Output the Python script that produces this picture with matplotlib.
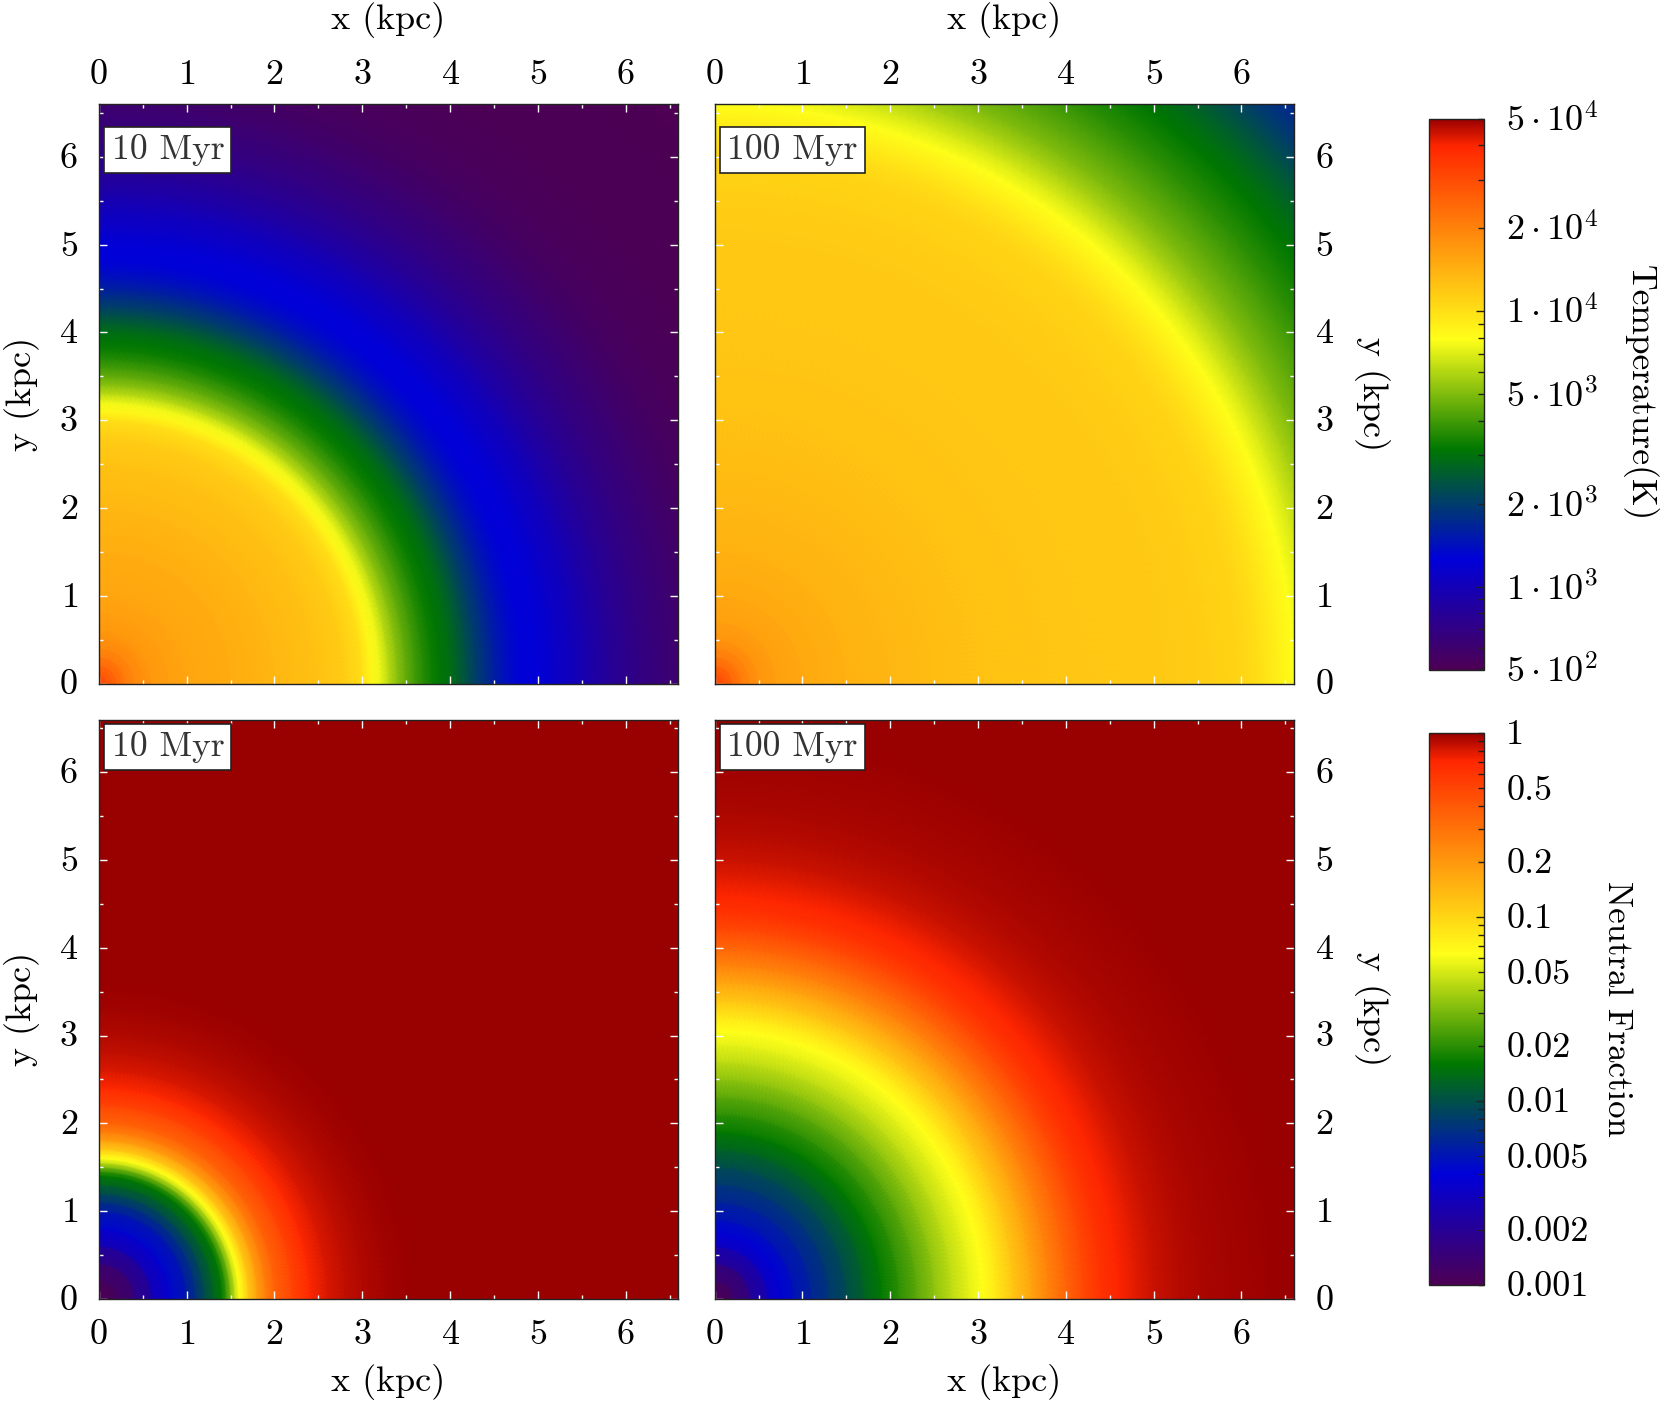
import numpy as np
import matplotlib
matplotlib.use('Agg')
import matplotlib.pyplot as plt
from matplotlib.colors import LinearSegmentedColormap, LogNorm
from matplotlib.ticker import MultipleLocator
from matplotlib.transforms import ScaledTranslation

# radial profiles (r in kpc)
r_temp_10 = [0, .1, .2, .3, .4, .5, .6, .8, 1, 1.5, 2, 2.5, 2.8, 3, 3.1, 3.2, 3.3, 3.4, 3.5, 3.6, 3.7, 3.8, 3.9,
             4, 4.1, 4.2, 4.3, 4.4, 4.5, 4.6, 4.7, 4.8, 4.9, 5, 5.1, 5.2, 5.4, 5.6, 5.8, 6, 6.2, 6.4, 6.6, 6.8, 7,
             7.5, 8, 9.4]
temp_10 = [31500, 27000, 24000, 21000, 19000, 18000, 17000, 16000, 15500, 14500, 13500, 12500, 11500, 10000, 8500,
           7500, 6200, 5200, 4500, 4000, 3600, 3300, 3100, 2900, 2600, 2300, 2000, 1800, 1600, 1450, 1350, 1280,
           1260, 1230, 1180, 1120, 1020, 900, 810, 740, 680, 640, 600, 570, 545, 515, 505, 500]

r_temp_100 = [0, .1, .2, .3, .4, .5, .7, 1, 1.5, 2, 3, 4, 5, 5.5, 6, 6.2, 6.4, 6.6, 6.8, 7, 7.2, 7.4, 7.6, 7.8, 8,
              8.2, 8.4, 8.6, 8.8, 9, 9.2, 9.4]
temp_100 = [31500, 28000, 24000, 21000, 19000, 17500, 16000, 15000, 14000, 13500, 12500, 12000, 11800, 11500, 10800,
            10000, 9000, 7900, 6800, 5800, 5000, 4500, 4100, 3700, 3400, 3150, 2900, 2600, 2300, 2000, 1800, 1650]

r_frac_10 = [0, .2, .4, .6, .8, 1, 1.1, 1.2, 1.3, 1.4, 1.45, 1.5, 1.55, 1.6, 1.65, 1.7, 1.8, 1.9, 2, 2.2, 2.4, 2.6,
             2.8, 3, 3.3, 3.6, 9.4]
frac_10 = [.001, .0011, .0015, .0025, .004, .0055, .007, .0095, .0125, .016, .021, .03, .045, .063, .08, .11, .18,
           .26, .35, .5, .68, .8, .87, .92, .97, 1, 1]

r_frac_100 = [0, .2, .4, .6, .75, .9, 1.1, 1.3, 1.5, 1.7, 1.9, 2.1, 2.3, 2.5, 2.7, 2.9, 3.05, 3.2, 3.4, 3.6, 3.8, 4,
              4.2, 4.4, 4.6, 4.8, 5, 5.3, 5.6, 6, 6.5, 7, 9.4]
frac_100 = [.001, .0012, .0018, .003, .004, .0048, .006, .0075, .0095, .0125, .016, .02, .026, .034, .044, .055,
            .063, .08, .12, .17, .25, .35, .48, .62, .71, .78, .84, .9, .94, .97, .99, 1, 1]

temp_ticks = [5e4, 2e4, 1e4, 5e3, 2e3, 1e3, 5e2]
temp_labels = [r'$5\cdot10^{4}$', r'$2\cdot10^{4}$', r'$1\cdot10^{4}$', r'$5\cdot10^{3}$', r'$2\cdot10^{3}$',
               r'$1\cdot10^{3}$', r'$5\cdot10^{2}$']
temp_minor = [4e4, 3e4, 9e3, 8e3, 7e3, 6e3, 4e3, 3e3, 9e2, 8e2, 7e2, 6e2]
frac_ticks = [1, .5, .2, .1, .05, .02, .01, .005, .002, .001]
frac_labels = ['1', '0.5', '0.2', '0.1', '0.05', '0.02', '0.01', '0.005', '0.002', '0.001']
frac_minor = [.9, .8, .7, .6, .4, .3, .09, .08, .07, .06, .04, .03, .009, .008, .007, .006, .004, .003]

W, H = 1661, 1404
plt.rcParams['font.family'] = ['cmr10', 'DejaVu Serif']
plt.rcParams['mathtext.fontset'] = 'cm'
plt.rcParams['axes.formatter.use_mathtext'] = True
plt.rcParams['font.size'] = 26

cmap = LinearSegmentedColormap.from_list('rainbow_t', [
    (0, (0.30, 0, 0.33)), (0.2, (0, 0, 0.85)), (0.4, (0, 0.47, 0)), (0.6, (1, 1, 0.1)),
    (0.95, (1, 0.15, 0)), (1, (0.6, 0, 0))], N=512)
norm_t = LogNorm(500, 5e4)
norm_f = LogNorm(0.001, 1)


def box(x0, y0, x1, y1):
    # pixel box (from top left) to figure fraction
    return [x0 / W, 1 - y1 / H, (x1 - x0) / W, (y1 - y0) / H]


def lift(labels, px):
    # cmr10 sits low when centred, move the labels up a bit
    off = ScaledTranslation(0, px / 100, fig.dpi_scale_trans)
    for lab in labels:
        lab.set_transform(lab.get_transform() + off)


def panel(pos, r, vals, norm, label, top, left):
    ax = fig.add_axes(box(*pos))
    th = np.linspace(0, np.pi / 2, 91)
    rr, tt = np.meshgrid(r, th, indexing='ij')
    zz = np.tile(np.array(vals)[:, None], (1, len(th)))
    m = ax.pcolormesh(rr * np.cos(tt), rr * np.sin(tt), zz, cmap=cmap, norm=norm, shading='gouraud')
    ax.set_xlim(0, 6.6)
    ax.set_ylim(0, 6.6)
    ax.xaxis.set_major_locator(MultipleLocator(1))
    ax.xaxis.set_minor_locator(MultipleLocator(0.5))
    ax.yaxis.set_major_locator(MultipleLocator(1))
    ax.yaxis.set_minor_locator(MultipleLocator(0.5))
    ax.tick_params(which='both', direction='in', color='white', top=True, right=True, width=1.0)
    ax.tick_params(which='major', length=6)
    ax.tick_params(which='minor', length=3)
    ax.tick_params(axis='x', which='major', pad=9.5 if top else 15, labeltop=top, labelbottom=not top)
    ax.tick_params(axis='y', which='major', pad=15, labelleft=left, labelright=not left)
    lift(ax.get_yticklabels(), 1.5)
    ax.set_xlabel('x (kpc)')
    ax.set_ylabel('y (kpc)', rotation=90 if left else 270, va='center')
    if top:
        ax.xaxis.set_label_position('top')
        ax.xaxis.set_label_coords(0.5, 1.146)
    else:
        ax.xaxis.set_label_coords(0.5, -0.143)
    ax.xaxis.label.set_va('center')
    if left:
        ax.yaxis.set_label_coords(-0.132, 0.5)
    else:
        ax.yaxis.set_label_position('right')
        ax.yaxis.set_label_coords(1.165, 0.5)
    for s in ax.spines.values():
        s.set_linewidth(1.0)
        s.set_color('#222222')
    ax.text(0.022, 0.921 if top else 0.9525, label, transform=ax.transAxes, va='center', ha='left', color='#333333',
            fontsize=25.7, bbox=dict(boxstyle='square,pad=0.2', fc='white', ec='#222222', lw=1.2))
    return m


def colorbar(m, pos, ticks, labels, minor, long_ticks):
    cax = fig.add_axes(box(*pos))
    cb = fig.colorbar(m, cax=cax)
    cax.yaxis.set_ticks(ticks, labels=labels)
    cax.yaxis.set_ticks(minor, minor=True)
    cax.tick_params(which='both', direction='in', right=True, left=False, color='#222222', width=1.0)
    cax.tick_params(which='major', length=4, pad=16)
    cax.tick_params(which='minor', length=4)
    for val, t in zip(ticks, cax.yaxis.get_major_ticks()):
        if val in long_ticks:
            t.tick2line.set_markersize(6)
    lift(cax.get_yticklabels(), 1)
    cb.outline.set_linewidth(1.0)
    cb.outline.set_edgecolor('#222222')


fig = plt.figure(figsize=(W / 100, H / 100), dpi=100)

col_x = [(98.8, 678.3), (714.6, 1294.1)]
row_y = [(104.3, 683.5), (719.5, 1299)]

m_t = panel((col_x[0][0], row_y[0][0], col_x[0][1], row_y[0][1]), r_temp_10, temp_10, norm_t, '10 Myr', True, True)
panel((col_x[1][0], row_y[0][0], col_x[1][1], row_y[0][1]), r_temp_100, temp_100, norm_t, '100 Myr', True, False)
m_f = panel((col_x[0][0], row_y[1][0], col_x[0][1], row_y[1][1]), r_frac_10, frac_10, norm_f, '10 Myr', False, True)
panel((col_x[1][0], row_y[1][0], col_x[1][1], row_y[1][1]), r_frac_100, frac_100, norm_f, '100 Myr', False, False)

colorbar(m_t, (1429, 118.6, 1484, 669.5), temp_ticks, temp_labels, temp_minor, [1e4, 1e3])
colorbar(m_f, (1429, 733, 1484, 1285), frac_ticks, frac_labels, frac_minor, [.1, .01])

fig.text(1640 / W, 1 - 393 / H, 'Temperature(K)', rotation=270, ha='center', va='center', fontsize=25.6)
fig.text(1617 / W, 1 - 1009 / H, 'Neutral Fraction', rotation=270, ha='center', va='center', fontsize=25)

fig.savefig('out.png', dpi=100)
